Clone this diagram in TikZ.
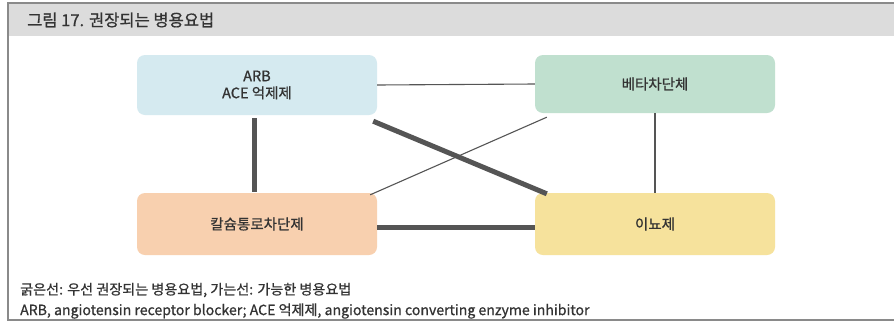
\documentclass[tikz,border=0pt]{standalone}
\usepackage{fontspec}
\setmainfont{Noto Sans CJK KR}
\newfontfamily\medfont{Noto Sans CJK KR}[FakeBold=0.8]
\usetikzlibrary{calc}
\definecolor{frameline}{HTML}{8A8A8A}
\definecolor{headfill}{HTML}{DCDCDC}
\definecolor{txt}{HTML}{333333}
\definecolor{link}{HTML}{555555}
\definecolor{cArb}{HTML}{D5EAF0}
\definecolor{cBeta}{HTML}{C0E0CF}
\definecolor{cCcb}{HTML}{F8D0AF}
\definecolor{cDiu}{HTML}{F6E29C}
\tikzset{
  drug/.style={rounded corners=8pt, minimum width=240pt, minimum height=60pt,
    inner sep=0pt, text=txt, align=center, font=\medfont\fontsize{14.5pt}{17pt}\selectfont},
  strong/.style={draw=link, line width=5pt},
  weak/.style={draw=link, line width=1.1pt},
  note/.style={anchor=west, text=txt, inner sep=0pt, font=\medfont\fontsize{14.1pt}{16pt}\selectfont}
}
\begin{document}
\begin{tikzpicture}[x=1pt,y=-1pt]
\useasboundingbox (0,0) rectangle (894,322);
\fill[white] (0,0) rectangle (894,322);
% header band and frame
\fill[headfill] (8,4) rectangle (894,36);
\draw[frameline, line width=2pt] (894,3) -- (8,3) -- (8,320) -- (894,320);
\node[anchor=west, text=txt, inner sep=0pt, font=\medfont\fontsize{16.5pt}{18pt}\selectfont] (title) at (27,20) {그림 17. 권장되는 병용요법};

% drug classes
\node[drug, fill=cArb] (arb) at (257,85) {ARB\\ACE 억제제};
\node[drug, fill=cBeta, minimum height=58pt] (beta) at (655,84) {베타차단체};
\node[drug, fill=cCcb, minimum height=62pt] (ccb) at (257,224) {칼슘통로차단제};
\node[drug, fill=cDiu, minimum height=62pt] (diu) at (655,224) {이뇨제};

% combinations: thick = preferred, thin = possible
\draw[weak] (arb.east) -- (beta.west);
\draw[weak] (beta.south) -- (diu.north);
\draw[weak] ($(ccb.north east)+(-7,2)$) -- ($(beta.south west)+(12,4)$);
\draw[strong] ($(arb.south)+(-3,3)$) -- ($(ccb.north)+(-3,-1)$);
\draw[strong] ($(arb.south east)+(-4,6)$) -- ($(diu.north west)+(12,1)$);
\draw[strong] ($(ccb.east)+(0,3)$) -- ($(diu.west)+(0,3)$);

% notes
\node[note] (n1) at (20,290) {굵은선: 우선 권장되는 병용요법, 가는선: 가능한 병용요법};
\node[note] (n2) at (20,311) {ARB, angiotensin receptor blocker; ACE 억제제, angiotensin converting enzyme inhibitor};
\end{tikzpicture}
\end{document}
